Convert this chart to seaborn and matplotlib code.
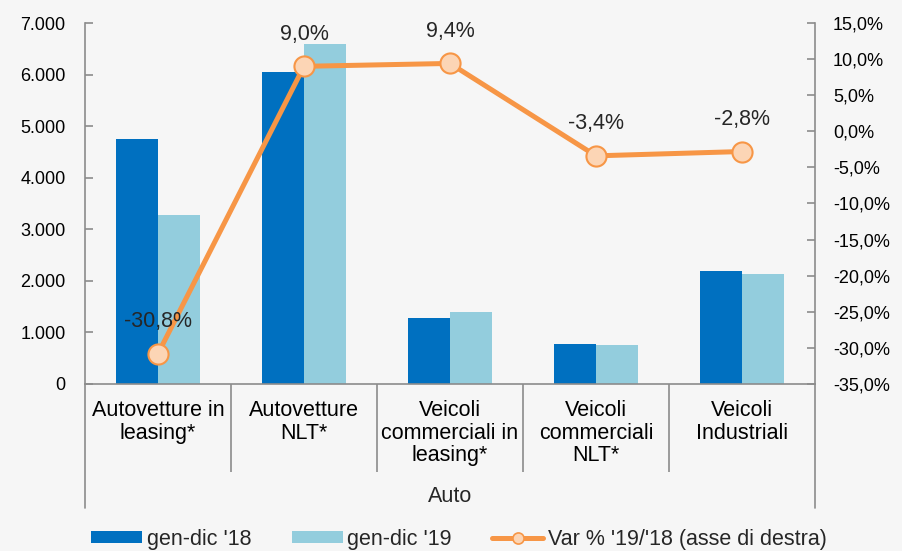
import numpy as np
import pandas as pd
import matplotlib
matplotlib.use("Agg")
import matplotlib.pyplot as plt
import seaborn as sns
from matplotlib.lines import Line2D
from matplotlib.patches import Patch
from matplotlib.ticker import FuncFormatter, FixedLocator

# ---- data ----
categories = ["Autovetture in\nleasing*", "Autovetture\nNLT*", "Veicoli\ncommerciali in\nleasing*",
              "Veicoli\ncommerciali\nNLT*", "Veicoli\nIndustriali"]
series_names = ["gen-dic '18", "gen-dic '19"]
values_18 = [4750, 6045, 1275, 775, 2200]
values_19 = [3280, 6590, 1395, 750, 2140]
var_pct = [-30.8, 9.0, 9.4, -3.4, -2.8]
var_labels = ["-30,8%", "9,0%", "9,4%", "-3,4%", "-2,8%"]
line_name = "Var % '19/'18 (asse di destra)"
group_label = "Auto"

# ---- style ----
sns.set_theme(style="white")
plt.rcParams['font.family'] = ['Liberation Sans', 'DejaVu Sans']
FS = 13
FL = 15.5
c18 = "#0070C0"
c19 = "#93CDDD"
corange = "#F79646"
cmarker = "#FCD5B5"
cgray = "#8C8C8C"
bg = "#F6F6F6"

df = pd.DataFrame({
    "cat": categories * 2,
    "serie": [series_names[0]] * 5 + [series_names[1]] * 5,
    "val": values_18 + values_19,
})

fig = plt.figure(figsize=(9.02, 5.51), dpi=100, facecolor=bg)
ax = fig.add_axes([85 / 902, 1 - 384 / 551, 730 / 902, 361 / 551])
ax.set_facecolor("none")

sns.barplot(data=df, x="cat", y="val", hue="serie", order=categories,
            hue_order=series_names, palette=[c18, c19], width=0.575,
            saturation=1, ax=ax, legend=False, edgecolor="none")

ax.set_xlim(-0.5, 4.5)
ax.set_ylim(0, 7000)
ax.set_yticks(np.arange(0, 7001, 1000))
ax.yaxis.set_major_formatter(FuncFormatter(lambda v, p: f"{int(v):,}".replace(",", ".")))
ax.set_xlabel("")
ax.set_ylabel("")

for s in ["top", "right"]:
    ax.spines[s].set_visible(False)
for s in ["left", "bottom"]:
    ax.spines[s].set_color(cgray)
    ax.spines[s].set_linewidth(1.2)

ax.tick_params(axis="y", direction="in", length=6, width=1.2, color=cgray,
               labelsize=FS, pad=14, labelcolor="black", left=True)
ax.set_xticks(range(5))
ax.set_xticklabels(categories, fontsize=FL, linespacing=1.1, va="top")
ax.tick_params(axis="x", which="major", length=0, pad=11.5, labelcolor="black")
ax.xaxis.set_minor_locator(FixedLocator([0.5, 1.5, 2.5, 3.5]))
ax.tick_params(axis="x", which="minor", direction="out", length=63, width=1.2,
               color=cgray, bottom=True)

# outer group edges
for xe in [-0.5, 4.5]:
    ax.add_line(Line2D([xe, xe], [0, -124 / 361], transform=ax.get_xaxis_transform(),
                       color=cgray, lw=1.2, clip_on=False))
ax.text(0.5, -113 / 361, group_label, transform=ax.transAxes, ha="center", va="center",
        fontsize=FL)

# ---- secondary axis ----
ax2 = ax.twinx()
sns.lineplot(x=np.arange(len(var_pct)), y=var_pct, ax=ax2, color=corange, lw=3.6,
             marker="o", markersize=14.5, markerfacecolor=cmarker,
             markeredgecolor=corange, markeredgewidth=1.5, sort=False)
ax2.set_ylim(-35, 15)
ax2.set_yticks(np.arange(-35, 15.1, 5))
ax2.yaxis.set_major_formatter(FuncFormatter(lambda v, p: f"{v:.1f}%".replace(".", ",")))
for s in ["top", "left", "bottom"]:
    ax2.spines[s].set_visible(False)
ax2.spines["right"].set_color(cgray)
ax2.spines["right"].set_linewidth(1.2)
ax2.tick_params(axis="y", direction="in", length=6, width=1.2, color=cgray,
                labelsize=FS, pad=13, right=True, labelcolor="black")
ax2.set_ylabel("")
ax2.set_xlim(-0.5, 4.5)

for i, (v, lab) in enumerate(zip(var_pct, var_labels)):
    ax2.annotate(lab, (i, v), xytext=(0, 23), textcoords="offset points",
                 ha="center", va="center", fontsize=FL)

# ---- legend ----
handles = [Patch(facecolor=c18, edgecolor="none"),
           Patch(facecolor=c19, edgecolor="none"),
           Line2D([], [], color=corange, lw=3.6, marker="o", markersize=8,
                  markerfacecolor=cmarker, markeredgecolor=corange, markeredgewidth=1.2)]
fig.legend(handles, series_names + [line_name], loc="center left",
           bbox_to_anchor=(91 / 902, 1 - 539 / 551), ncol=3, frameon=False,
           fontsize=FL, handlelength=2.37, handleheight=0.5, handletextpad=0.23,
           columnspacing=1.86, borderpad=0, borderaxespad=0)

fig.savefig("out.png", dpi=100, facecolor=bg)
